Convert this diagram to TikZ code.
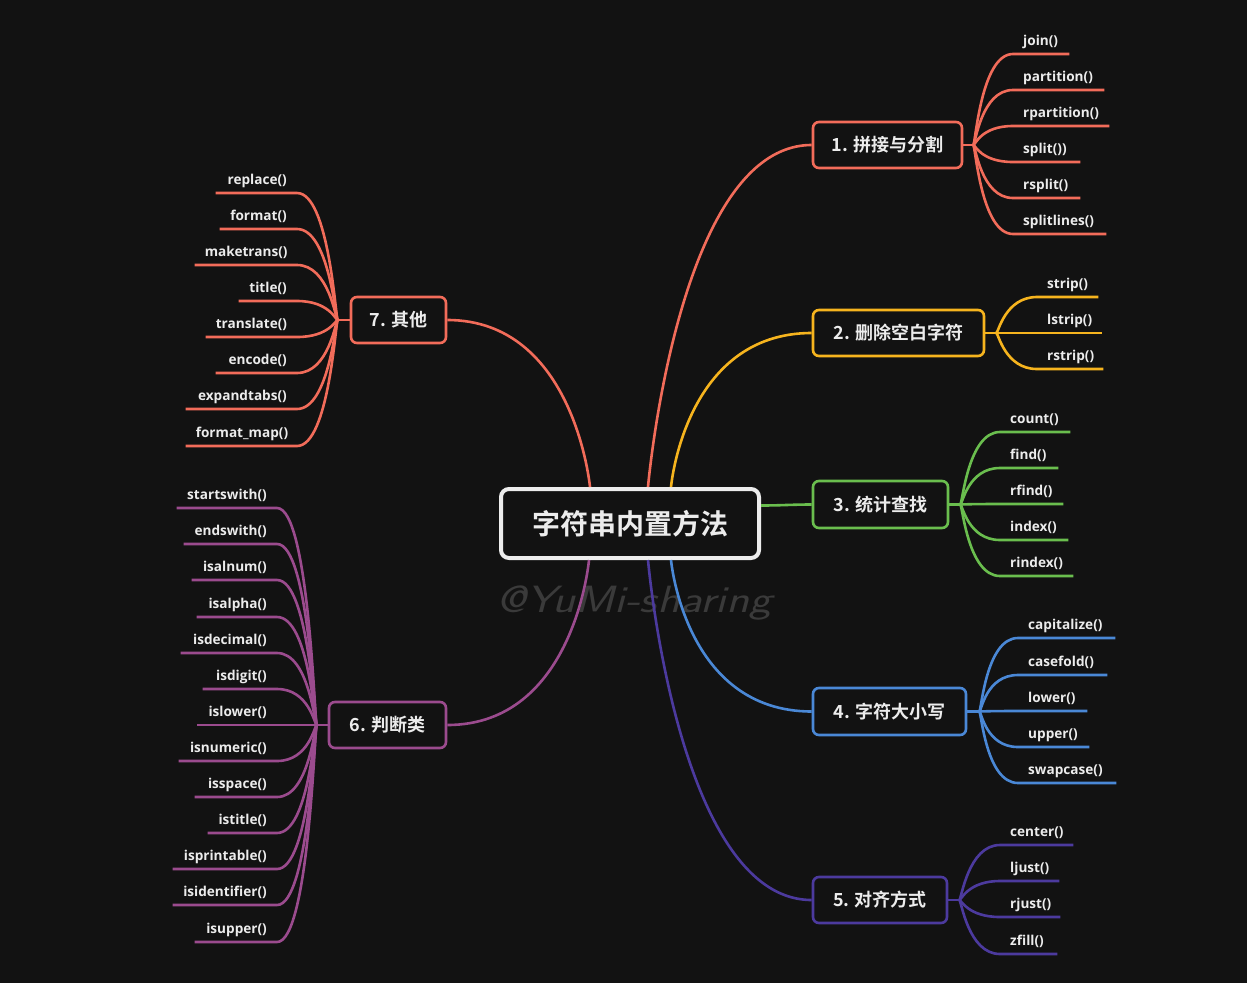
\documentclass[tikz,border=0pt]{standalone}
\usepackage{fontspec}
\setmainfont{Open Sans}
\newfontfamily\cjk{Noto Sans CJK SC Bold}
\definecolor{bg}{RGB}{18,18,18}
\definecolor{fg}{RGB}{236,236,236}
\definecolor{cA}{RGB}{242,108,90}
\definecolor{cB}{RGB}{246,180,30}
\definecolor{cC}{RGB}{106,190,78}
\definecolor{cD}{RGB}{74,136,214}
\definecolor{cE}{RGB}{76,58,158}
\definecolor{cF}{RGB}{155,75,142}
\definecolor{wm}{RGB}{58,58,58}
\tikzset{
  leafbase/.style={inner xsep=10pt, inner ysep=4.5pt, text height=10.5pt, text depth=3.5pt,
    font=\bfseries\fontsize{13.6}{16}\selectfont, text=fg},
  lr/.style={leafbase, anchor=south west, align=left, text width=#1},
  ll/.style={leafbase, anchor=south east, align=right, text width=#1},
  branchbox/.style={draw=#1, line width=2.6pt, rounded corners=6pt, fill=bg,
    font=\cjk\fontsize{18}{20}\selectfont, text=fg, inner sep=0pt},
  link/.style={draw=#1, line width=2.6pt},
}
\begin{document}
\begin{tikzpicture}[x=1pt,y=-1pt]
\fill[bg] (0,0) rectangle (1247,983);
\useasboundingbox (0,0) rectangle (1247,983);

% watermark
\node[text=wm, font=\sffamily\itshape\fontsize{38}{42}\selectfont, xscale=1.25] (wm) at (634,603) {@YuMi-sharing};

% central node
\node[draw=fg, line width=4pt, rounded corners=8pt, fill=bg, minimum width=258pt, minimum height=69pt,
      font=\cjk\fontsize{28}{32}\selectfont, text=fg] (c) at (630,523.5) {字符串内置方法};

% branch nodes
\node[branchbox=cA, minimum width=149pt, minimum height=46pt] (b1) at (887.5,145) {1. 拼接与分割};
\node[branchbox=cB, minimum width=171pt, minimum height=46pt] (b2) at (898.5,333) {2. 删除空白字符};
\node[branchbox=cC, minimum width=135pt, minimum height=47pt] (b3) at (880.5,504.5) {3. 统计查找};
\node[branchbox=cD, minimum width=153pt, minimum height=47pt] (b4) at (889.5,711.5) {4. 字符大小写};
\node[branchbox=cE, minimum width=134pt, minimum height=46pt] (b5) at (880,900) {5. 对齐方式};
\node[branchbox=cF, minimum width=117pt, minimum height=46pt] (b6) at (387.5,725) {6. 判断类};
\node[branchbox=cA, minimum width=95pt, minimum height=46pt] (b7) at (398.5,320) {7. 其他};

% start points on the central node
\coordinate (s1) at ([xshift=18pt]c.north);
\coordinate (s2) at ([xshift=41pt]c.north);
\coordinate (s3) at ([yshift=18pt]c.east);
\coordinate (s4) at ([xshift=41pt]c.south);
\coordinate (s5) at ([xshift=18pt]c.south);
\coordinate (s6) at ([xshift=-41pt]c.south);
\coordinate (s7) at ([xshift=-40pt]c.north);

% center -> branches
\draw[link=cA] (s1) .. controls +(0,0) and +(-134,0) .. (b1.west);
\draw[link=cB] (s2) .. controls +(0,0) and +(-127,0) .. (b2.west);
\draw[link=cC] (s3) .. controls +(20,0) and +(-20,0) .. (b3.west);
\draw[link=cD] (s4) .. controls +(0,0) and +(-127,0) .. (b4.west);
\draw[link=cE] (s5) .. controls +(0,0) and +(-134,0) .. (b5.west);
\draw[link=cF] (s6) .. controls +(0,0) and +(127,0) .. (b6.east);
\draw[link=cA] (s7) .. controls +(0,0) and +(127,0) .. (b7.east);

% fork points
\coordinate (f1) at ([xshift=10pt]b1.east);
\coordinate (f2) at ([xshift=11pt]b2.east);
\coordinate (f3) at ([xshift=11pt]b3.east);
\coordinate (f4) at ([xshift=12pt]b4.east);
\coordinate (f5) at ([xshift=11pt]b5.east);
\coordinate (f6) at ([xshift=-11pt]b6.west);
\coordinate (f7) at ([xshift=-12pt]b7.west);
\draw[link=cA] (b1.east) -- (f1);
\draw[link=cB] (b2.east) -- (f2);
\draw[link=cC] (b3.east) -- (f3);
\draw[link=cD] (b4.east) -- (f4);
\draw[link=cE] (b5.east) -- (f5);
\draw[link=cF] (b6.west) -- (f6);
\draw[link=cA] (b7.west) -- (f7);

% branch 1 leaves
\node[lr=36pt] (l1a) at (1013,54) {\mbox{join()}};
\node[lr=71pt] (l1b) at (1013,90) {\mbox{partition()}};
\node[lr=76pt] (l1c) at (1013,126) {\mbox{rpartition()}};
\node[lr=47pt] (l1d) at (1013,162) {\mbox{split())}};
\node[lr=47pt] (l1e) at (1013,198) {\mbox{rsplit()}};
\node[lr=73pt] (l1f) at (1013,234) {\mbox{splitlines()}};
\foreach \n in {l1a,l1b,l1c,l1d,l1e,l1f}
  \draw[link=cA] (f1) .. controls +(2,0) and +(-32,0) .. (\n.south west) -- (\n.south east);

% branch 2 leaves
\node[lr=41pt] (l2a) at (1037,297) {\mbox{strip()}};
\node[lr=45pt] (l2b) at (1037,333) {\mbox{lstrip()}};
\node[lr=46pt] (l2c) at (1037,369) {\mbox{rstrip()}};
\foreach \n in {l2a,l2b,l2c}
  \draw[link=cB] (f2) .. controls +(2,0) and +(-32,0) .. (\n.south west) -- (\n.south east);

% branch 3 leaves
\node[lr=50pt] (l3a) at (1000,432) {\mbox{count()}};
\node[lr=38pt] (l3b) at (1000,468) {\mbox{find()}};
\node[lr=43pt] (l3c) at (1000,504) {\mbox{rfind()}};
\node[lr=48pt] (l3d) at (1000,540) {\mbox{index()}};
\node[lr=53pt] (l3e) at (1000,576) {\mbox{rindex()}};
\foreach \n in {l3a,l3b,l3c,l3d,l3e}
  \draw[link=cC] (f3) .. controls +(2,0) and +(-32,0) .. (\n.south west) -- (\n.south east);

% branch 4 leaves
\node[lr=77pt] (l4a) at (1018,638) {\mbox{capitalize()}};
\node[lr=69pt] (l4b) at (1018,675) {\mbox{casefold()}};
\node[lr=49pt] (l4c) at (1018,711) {\mbox{lower()}};
\node[lr=51pt] (l4d) at (1018,747) {\mbox{upper()}};
\node[lr=78pt] (l4e) at (1018,783) {\mbox{swapcase()}};
\foreach \n in {l4a,l4b,l4c,l4d,l4e}
  \draw[link=cD] (f4) .. controls +(2,0) and +(-32,0) .. (\n.south west) -- (\n.south east);

% branch 5 leaves
\node[lr=53pt] (l5a) at (1000,845) {\mbox{center()}};
\node[lr=39pt] (l5b) at (1000,881) {\mbox{ljust()}};
\node[lr=40pt] (l5c) at (1000,917) {\mbox{rjust()}};
\node[lr=37pt] (l5d) at (1000,954) {\mbox{zfill()}};
\foreach \n in {l5a,l5b,l5c,l5d}
  \draw[link=cE] (f5) .. controls +(2,0) and +(-32,0) .. (\n.south west) -- (\n.south east);

% branch 6 leaves
\node[ll=80pt] (l6a) at (277,508) {\mbox{startswith()}};
\node[ll=73pt] (l6b) at (277,544) {\mbox{endswith()}};
\node[ll=65pt] (l6c) at (277,580) {\mbox{isalnum()}};
\node[ll=60pt] (l6d) at (277,617) {\mbox{isalpha()}};
\node[ll=76pt] (l6e) at (277,653) {\mbox{isdecimal()}};
\node[ll=54pt] (l6f) at (277,689) {\mbox{isdigit()}};
\node[ll=60pt] (l6g) at (277,725) {\mbox{islower()}};
\node[ll=78pt] (l6h) at (277,761) {\mbox{isnumeric()}};
\node[ll=62pt] (l6i) at (277,797) {\mbox{isspace()}};
\node[ll=49pt] (l6j) at (277,833) {\mbox{istitle()}};
\node[ll=84pt] (l6k) at (277,869) {\mbox{isprintable()}};
\node[ll=84pt] (l6l) at (277,905) {\mbox{isidentifier()}};
\node[ll=62pt] (l6m) at (277,942) {\mbox{isupper()}};
\foreach \n in {l6a,l6b,l6c,l6d,l6e,l6f,l6g,l6h,l6i,l6j,l6k,l6l,l6m}
  \draw[link=cF] (f6) .. controls +(-2,0) and +(32,0) .. (\n.south east) -- (\n.south west);

% branch 7 leaves
\node[ll=61pt] (l7a) at (297,193) {\mbox{replace()}};
\node[ll=57pt] (l7b) at (297,229) {\mbox{format()}};
\node[ll=82pt] (l7c) at (297,265) {\mbox{maketrans()}};
\node[ll=38pt] (l7d) at (297,301) {\mbox{title()}};
\node[ll=71pt] (l7e) at (297,337) {\mbox{translate()}};
\node[ll=61pt] (l7f) at (297,373) {\mbox{encode()}};
\node[ll=91pt] (l7g) at (297,409) {\mbox{expandtabs()}};
\node[ll=91pt] (l7h) at (297,446) {\mbox{format\_map()}};
\foreach \n in {l7a,l7b,l7c,l7d,l7e,l7f,l7g,l7h}
  \draw[link=cA] (f7) .. controls +(-2,0) and +(32,0) .. (\n.south east) -- (\n.south west);
\end{tikzpicture}
\end{document}
